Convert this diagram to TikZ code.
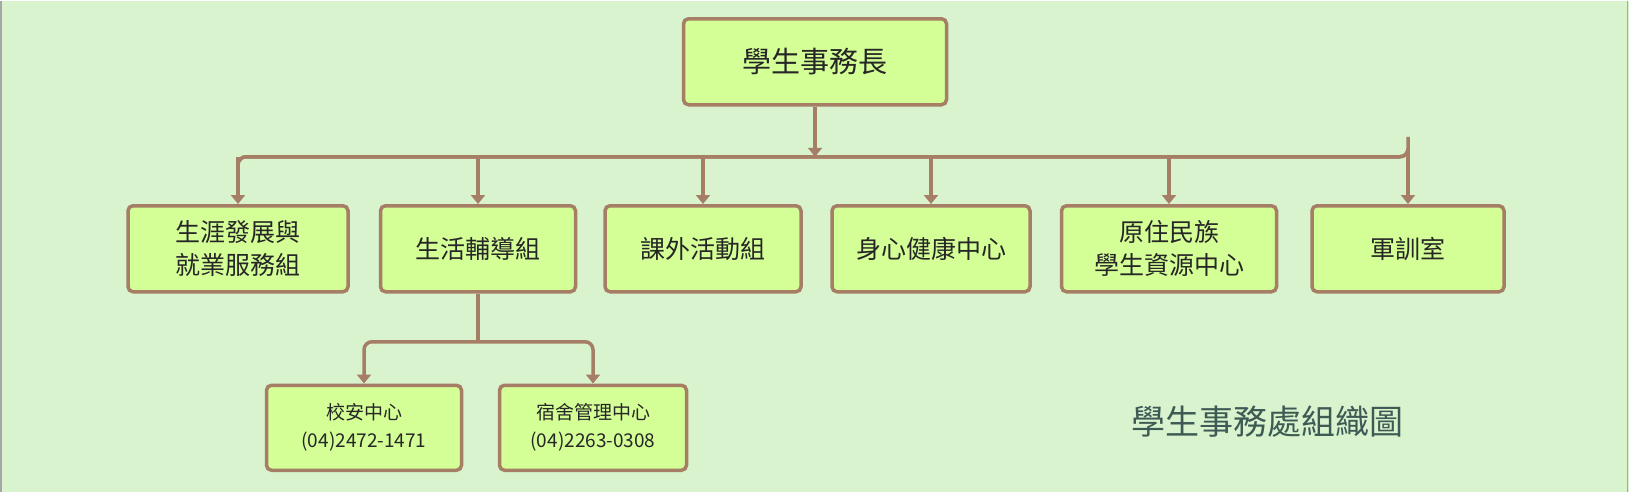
\documentclass[tikz,border=0pt]{standalone}
\usepackage{fontspec}
\setmainfont{Noto Sans CJK TC}
\usetikzlibrary{arrows.meta}
\definecolor{bg}{HTML}{D8F3CD}
\definecolor{bx}{HTML}{D4FF96}
\definecolor{br}{HTML}{A67E66}
\definecolor{tt}{HTML}{3E5A55}
\begin{document}
\begin{tikzpicture}[x=1pt,y=-1pt,
  box/.style={draw=br,fill=bx,line width=3.5pt,rounded corners=5pt,inner sep=0pt,align=center,text=black!85,font=\fontsize{25}{33}\selectfont},
  sbox/.style={box,font=\fontsize{19}{28}\selectfont},
  con/.style={draw=br,line width=3.5pt,rounded corners=8pt,-{Triangle[length=9pt,width=14pt]}},
  ln/.style={draw=br,line width=3.5pt,rounded corners=8pt}]
\fill[bg] (0,0) rectangle (1629,491);
\draw[gray!70,line width=1.5pt] (0.75,0)--(0.75,491) (1627.5,0)--(1627.5,491);
\node[box,minimum width=263pt,minimum height=86pt,font=\fontsize{29}{36}\selectfont] (top) at (815,61) {學生事務長};
\node[box,minimum width=220pt,minimum height=86pt] (a) at (238,248) {生涯發展與\\就業服務組};
\node[box,minimum width=195pt,minimum height=86pt] (b) at (478,248) {生活輔導組};
\node[box,minimum width=196pt,minimum height=86pt] (c) at (703,248) {課外活動組};
\node[box,minimum width=198pt,minimum height=86pt] (d) at (931,248) {身心健康中心};
\node[box,minimum width=215pt,minimum height=86pt] (e) at (1169,248) {原住民族\\學生資源中心};
\node[box,minimum width=192pt,minimum height=86pt] (f) at (1408,248) {軍訓室};
\node[sbox,minimum width=195pt,minimum height=85pt] (s1) at (364,427) {校安中心\\(04)2472-1471};
\node[sbox,minimum width=187pt,minimum height=85pt] (s2) at (593,427) {宿舍管理中心\\(04)2263-0308};
\coordinate (bj) at (815,156);
\coordinate (sj) at (478,341);
\draw[con] (top.south) -- (bj);
\draw[ln] (a.north) ++(0,-16) |- (f.north |- bj) -- ++(0,0);
\foreach \n in {a,b,c,d,e,f}{\draw[con,rounded corners=0pt] (\n.north |- bj) -- (\n.north);}
\draw[ln,rounded corners=0pt] (b.south) -- (sj);
\draw[con] (sj) -| (s1.north);
\draw[con] (sj) -| (s2.north);
\draw[ln] (a.north |- bj) ++(0,20) |- (bj) -| ([yshift=20pt]f.north |- bj);
\node[text=tt,font=\fontsize{34}{40}\selectfont] (title) at (1267,421) {學生事務處組織圖};
\end{tikzpicture}
\end{document}
